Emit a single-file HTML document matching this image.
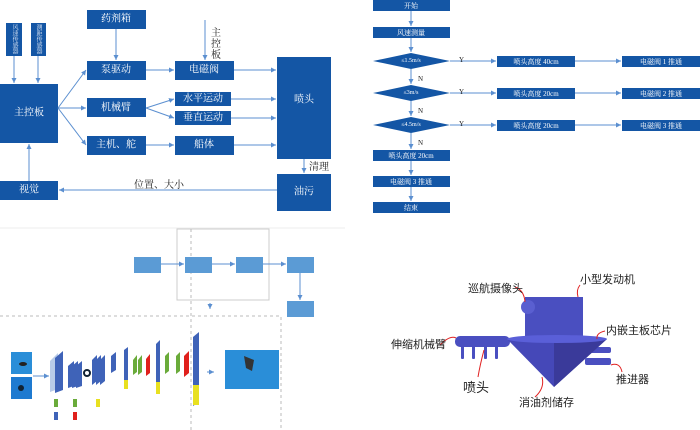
<!DOCTYPE html>
<html><head><meta charset="utf-8"><style>
html,body{margin:0;padding:0;background:#fff;width:700px;height:430px;overflow:hidden}
svg{display:block}
text{font-family:"Liberation Serif","Noto Serif CJK SC",serif}
.w{fill:#fff;font-size:10px;text-anchor:middle;dominant-baseline:central}
.ws{fill:#dfe8f5;font-size:6px;text-anchor:middle;dominant-baseline:central}
.k{fill:#222;font-size:10px}
.s{font-family:"Liberation Sans","Noto Sans CJK SC",sans-serif;fill:#222;font-size:11px}
</style></head><body>
<svg width="700" height="430" viewBox="0 0 700 430" xmlns="http://www.w3.org/2000/svg">
<defs>
<marker id="a" markerWidth="6" markerHeight="6" refX="5" refY="3" orient="auto"><path d="M0,0.5 L5,3 L0,5.5z" fill="#2a5fa8"/></marker>
<marker id="b" markerWidth="6" markerHeight="6" refX="5" refY="3" orient="auto"><path d="M0,0.5 L5,3 L0,5.5z" fill="#5b8fd0"/></marker>
</defs>
<!-- TL diagram -->
<g fill="#1456a5">
<rect x="6" y="23" width="16" height="33"/><rect x="31" y="23" width="15" height="33"/>
<rect x="0" y="84" width="58" height="59"/>
<rect x="87" y="10" width="59" height="19"/><rect x="87" y="61" width="59" height="19"/>
<rect x="87" y="98" width="59" height="19"/><rect x="87" y="136" width="59" height="19"/>
<rect x="175" y="61" width="59" height="19"/><rect x="175" y="92" width="56" height="14"/>
<rect x="175" y="111" width="56" height="14"/><rect x="175" y="136" width="59" height="19"/>
<rect x="277" y="57" width="54" height="102"/><rect x="277" y="174" width="54" height="37"/>
<rect x="0" y="181" width="58" height="19"/>
</g>
<g stroke="#5b8fd0" stroke-width="1" fill="none" marker-end="url(#b)">
<line x1="14" y1="56" x2="14" y2="83"/><line x1="38" y1="56" x2="38" y2="83"/>
<line x1="116" y1="29" x2="116" y2="60"/><line x1="205" y1="20" x2="205" y2="60"/>
<line x1="58" y1="108" x2="86" y2="70"/><line x1="58" y1="108" x2="86" y2="108"/><line x1="58" y1="108" x2="86" y2="145"/>
<line x1="146" y1="70" x2="174" y2="70"/><line x1="146" y1="108" x2="174" y2="99"/><line x1="146" y1="108" x2="174" y2="118"/>
<line x1="146" y1="145" x2="174" y2="145"/>
<line x1="234" y1="70" x2="276" y2="70"/><line x1="231" y1="99" x2="276" y2="99"/><line x1="231" y1="118" x2="276" y2="118"/><line x1="234" y1="145" x2="276" y2="145"/>
<line x1="304" y1="159" x2="304" y2="173"/><line x1="277" y1="190" x2="59" y2="190"/><line x1="29" y1="181" x2="29" y2="144"/>
</g>
<g>
<text class="ws" x="14" y="39" style="writing-mode:tb">风速传感器</text>
<text class="ws" x="38" y="39" style="writing-mode:tb">测距传感器</text>
<text class="w" x="29" y="113">主控板</text><text class="w" x="116" y="19">药剂箱</text>
<text class="w" x="116" y="70">泵驱动</text><text class="w" x="116" y="108">机械臂</text>
<text class="w" x="116" y="145">主机、舵</text><text class="w" x="204" y="70">电磁阀</text>
<text class="w" x="203" y="99">水平运动</text><text class="w" x="203" y="118">垂直运动</text>
<text class="w" x="204" y="145">船体</text><text class="w" x="304" y="100">喷头</text>
<text class="w" x="304" y="192">油污</text><text class="w" x="29" y="190">视觉</text>
<text class="k" x="211" y="36">主</text><text class="k" x="211" y="47">控</text><text class="k" x="211" y="58">板</text>
<text class="k" x="309" y="170">清理</text><text class="k" x="134" y="188">位置、大小</text>
</g>
<!-- TR flowchart -->
<g fill="#1456a5">
<rect x="373" y="0" width="77" height="11"/><rect x="373" y="27" width="77" height="11"/>
<polygon points="373,61 411,53 450,61 411,69"/><polygon points="373,93 411,85 450,93 411,101"/><polygon points="373,125 411,117 450,125 411,133"/>
<rect x="373" y="150" width="77" height="11"/><rect x="373" y="176" width="77" height="11"/><rect x="373" y="202" width="77" height="11"/>
<rect x="497" y="56" width="78" height="11"/><rect x="497" y="88" width="78" height="11"/><rect x="497" y="120" width="78" height="11"/>
<rect x="622" y="56" width="78" height="11"/><rect x="622" y="88" width="78" height="11"/><rect x="622" y="120" width="78" height="11"/>
</g>
<g stroke="#5b8fd0" stroke-width="1" marker-end="url(#b)">
<line x1="411" y1="11" x2="411" y2="26"/><line x1="411" y1="38" x2="411" y2="52"/><line x1="411" y1="69" x2="411" y2="84"/>
<line x1="411" y1="101" x2="411" y2="116"/><line x1="411" y1="133" x2="411" y2="149"/><line x1="411" y1="161" x2="411" y2="175"/><line x1="411" y1="187" x2="411" y2="201"/>
<line x1="450" y1="61" x2="496" y2="61"/><line x1="450" y1="93" x2="496" y2="93"/><line x1="450" y1="125" x2="496" y2="125"/>
<line x1="575" y1="61" x2="621" y2="61"/><line x1="575" y1="93" x2="621" y2="93"/><line x1="575" y1="125" x2="621" y2="125"/>
</g>
<g style="font-size:7px">
<text class="w" x="411" y="6" style="font-size:7px">开始</text><text class="w" x="411" y="33" style="font-size:7px">风速测量</text>
<text class="w" x="411" y="61" style="font-size:6px">≤1.5m/s</text><text class="w" x="411" y="93" style="font-size:6px">≤3m/s</text><text class="w" x="411" y="125" style="font-size:6px">≤4.5m/s</text>
<text class="w" x="411" y="156" style="font-size:7px">喷头高度 20cm</text><text class="w" x="411" y="182" style="font-size:7px">电磁阀 3 推通</text><text class="w" x="411" y="208" style="font-size:7px">结束</text>
<text class="w" x="536" y="62" style="font-size:7px">喷头高度 40cm</text><text class="w" x="536" y="94" style="font-size:7px">喷头高度 20cm</text><text class="w" x="536" y="126" style="font-size:7px">喷头高度 20cm</text>
<text class="w" x="661" y="62" style="font-size:7px">电磁阀 1 推通</text><text class="w" x="661" y="94" style="font-size:7px">电磁阀 2 推通</text><text class="w" x="661" y="126" style="font-size:7px">电磁阀 3 推通</text>
<text class="k" x="459" y="62" style="font-size:7px">Y</text><text class="k" x="459" y="94" style="font-size:7px">Y</text><text class="k" x="459" y="126" style="font-size:7px">Y</text>
<text class="k" x="418" y="81" style="font-size:7px">N</text><text class="k" x="418" y="113" style="font-size:7px">N</text><text class="k" x="418" y="145" style="font-size:7px">N</text>
</g>
<!-- BL diagram -->
<line x1="0" y1="228" x2="345" y2="228" stroke="#eee"/>
<rect x="177" y="229" width="92" height="71" fill="none" stroke="#ccc"/>
<line x1="191" y1="229" x2="191" y2="430" stroke="#bbb" stroke-dasharray="3,3"/>
<path d="M0,316 H281 V430" fill="none" stroke="#bbb" stroke-dasharray="3,3"/>
<g fill="#5b9bd5">
<rect x="134" y="257" width="27" height="16"/><rect x="185" y="257" width="27" height="16"/><rect x="236" y="257" width="27" height="16"/><rect x="287" y="257" width="27" height="16"/><rect x="287" y="301" width="27" height="16"/>
</g>
<g stroke="#5b8fd0" marker-end="url(#b)"><line x1="161" y1="264" x2="184" y2="264"/><line x1="212" y1="264" x2="235" y2="264"/><line x1="263" y1="264" x2="286" y2="264"/><line x1="300" y1="273" x2="300" y2="300"/><line x1="210" y1="303" x2="210" y2="309"/><line x1="33" y1="376" x2="49" y2="376"/><line x1="207" y1="372" x2="214" y2="372"/></g>
<rect x="11" y="352" width="21" height="22" fill="#2a8ed8"/><rect x="11" y="377" width="21" height="22" fill="#1e7ad0"/>
<ellipse cx="23" cy="364" rx="4" ry="2" fill="#222"/><circle cx="21" cy="388" r="3" fill="#123"/>
<g fill="#3f63b8">
<polygon points="50,361 58,353 58,389 50,392" fill="#b8cbe8"/><polygon points="55,358 63,351 63,390 55,393"/>
<polygon points="68,366 74,361 74,386 68,388"/><polygon points="72,366 78,361 78,386 72,388"/><polygon points="76,366 82,361 82,386 76,388"/>
<polygon points="92,360 97,355 97,381 92,385"/><polygon points="96,360 101,355 101,381 96,385"/><polygon points="100,360 105,355 105,381 100,385"/>
<polygon points="111,356 116,352 116,370 111,373"/><polygon points="124,350 128,347 128,380 124,383"/>
<polygon points="156,344 160,340 160,385 156,388"/><polygon points="193,337 199,332 199,402 193,406"/>
</g>
<circle cx="87" cy="373" r="3" fill="none" stroke="#123" stroke-width="2"/>
<g fill="#6aab3a"><polygon points="133,360 137,355 137,372 133,375"/><polygon points="138,360 142,355 142,372 138,375"/><polygon points="165,356 169,352 169,371 165,374"/><polygon points="176,356 180,352 180,371 176,374"/><rect x="54" y="399" width="4" height="8"/></g>
<g fill="#e0201c"><polygon points="146,359 150,354 150,373 146,376"/><polygon points="184,356 189,351 189,373 184,377"/><rect x="54" y="412" width="4" height="8" fill="#3f63b8"/><rect x="73" y="412" width="4" height="8"/></g>
<g fill="#e8e020"><rect x="124" y="380" width="4" height="9"/><rect x="156" y="382" width="4" height="12"/><rect x="193" y="385" width="6" height="20"/><rect x="96" y="399" width="4" height="8"/></g>
<rect x="73" y="399" width="4" height="8" fill="#6aab3a"/>
<rect x="225" y="350" width="54" height="39" fill="#2a8ed8"/><polygon points="244,356 254,360 252,371 246,368" fill="#333"/>
<!-- BR 3D model -->
<g fill="#4a4fc0">
<rect x="525" y="297" width="58" height="40"/>
<circle cx="528" cy="307" r="7" fill="#5a5fd0"/>
<rect x="455" y="336" width="55" height="11" rx="5"/>
<rect x="461" y="346" width="3" height="13" rx="1"/><rect x="472" y="346" width="3" height="13" rx="1"/><rect x="484" y="346" width="3" height="13" rx="1"/><rect x="495" y="346" width="3" height="13" rx="1"/>
<rect x="585" y="347" width="26" height="6" rx="2"/><rect x="585" y="358" width="26" height="7" rx="2"/>
<polygon points="507,339 607,339 554,387" fill="#4548b8"/>
<polygon points="554,339 607,339 554,387" fill="#3a3a9a"/>
<ellipse cx="557" cy="339" rx="50" ry="4" fill="#5a5fd8"/>
</g>
<g stroke="#e02020" fill="none" stroke-width="1">
<path d="M515,287 Q524,290 525,302"/><path d="M580,285 Q576,290 578,297"/><path d="M605,331 Q596,333 597,339"/>
<path d="M440,345 Q450,335 456,338"/><path d="M484,350 Q480,365 478,377"/><path d="M542,377 Q545,388 535,397"/><path d="M611,365 Q620,362 622,372"/>
</g>
<g class="s">
<text class="s" x="468" y="292">巡航摄像头</text><text class="s" x="580" y="283">小型发动机</text>
<text class="s" x="606" y="334">内嵌主板芯片</text><text class="s" x="391" y="348">伸缩机械臂</text>
<text class="s" x="463" y="392" style="font-size:13px">喷头</text><text class="s" x="519" y="406">消油剂储存</text>
<text class="s" x="616" y="383">推进器</text>
</g>
</svg>
</body></html>
